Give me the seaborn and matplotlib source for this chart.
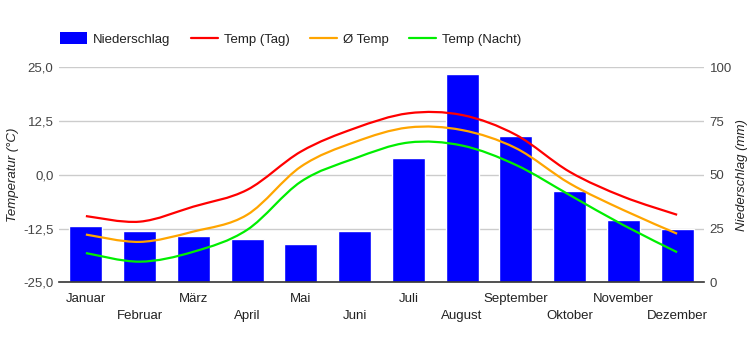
import matplotlib
matplotlib.use("Agg")
import matplotlib.pyplot as plt
import numpy as np
import pandas as pd
import seaborn as sns
from matplotlib.lines import Line2D
from matplotlib.patches import Patch, PathPatch
from matplotlib.path import Path

months = ["Januar", "Februar", "März", "April", "Mai", "Juni", "Juli",
          "August", "September", "Oktober", "November", "Dezember"]
niederschlag = [26, 24, 21.5, 20, 18, 24, 58, 97, 68, 42.5, 29, 25]
temp_tag = [-9.6, -10.9, -7.4, -3.5, 5.4, 10.8, 14.3, 13.9, 9.3, 0.7, -5.1, -9.3]
temp_mittel = [-13.9, -15.6, -13.2, -9.3, 1.9, 7.6, 11.0, 10.4, 6.2, -2.0, -8.2, -13.7]
temp_nacht = [-18.2, -20.2, -17.9, -12.8, -1.6, 3.8, 7.5, 6.8, 2.3, -4.7, -11.7, -18.0]

temp_ticks = [-25, -12.5, 0, 12.5, 25]
rain_ticks = [0, 25, 50, 75, 100]


def smooth_path(xs, ys):
    # bezier path through the points, like a "function" curve
    pts = np.column_stack([xs, ys]).astype(float)
    n = len(pts)
    verts = [pts[0]]
    codes = [Path.MOVETO]
    for i in range(n - 1):
        p0 = pts[max(i - 1, 0)]
        p1 = pts[i]
        p2 = pts[i + 1]
        p3 = pts[min(i + 2, n - 1)]
        c1 = p1 + (p2 - p0) / 6.0
        c2 = p2 - (p3 - p1) / 6.0
        verts += [c1, c2, p2]
        codes += [Path.CURVE4] * 3
    return Path(verts, codes)


sns.set_theme(style="white")
plt.rcParams["font.family"] = ["Liberation Sans", "DejaVu Sans"]
plt.rcParams["font.size"] = 9.5

df = pd.DataFrame({"monat": months, "mm": niederschlag})

fig = plt.figure(figsize=(7.5, 3.5), dpi=100)
ax = fig.add_axes([59 / 750, 1 - 282.3 / 350, 645 / 750, 215 / 350])
ax2 = ax.twinx()

sns.barplot(data=df, x="monat", y="mm", color="#0000ff", saturation=1,
            width=0.61, ax=ax2, zorder=2)
ax2.set_ylim(0, 100)
ax2.set_yticks(rain_ticks)
ax2.set_yticklabels([str(t) for t in rain_ticks])
ax2.set_ylabel("Niederschlag (mm)", style="italic", color="#222222",
               fontsize=9.5, labelpad=3)
ax2.set_xlabel("")

# temperature lines above the bars
ax.set_zorder(ax2.get_zorder() + 1)
ax.patch.set_visible(False)
xpos = np.arange(len(months))
for vals, col in [(temp_tag, "#ff0000"), (temp_mittel, "#ffa500"),
                  (temp_nacht, "#00ee00")]:
    ax.add_patch(PathPatch(smooth_path(xpos, vals), facecolor="none",
                           edgecolor=col, lw=1.6, zorder=3))
ax.set_xlim(-0.5, 11.5)
ax.set_ylim(-25, 25)
ax.set_yticks(temp_ticks)
ax.set_yticklabels([f"{t:.1f}".replace(".", ",") for t in temp_ticks])
ax.set_ylabel("Temperatur (°C)", style="italic", color="#222222",
              fontsize=9.5, labelpad=3)

# grid lines drawn on the back axis
for t in rain_ticks[1:]:
    ax2.axhline(t, color="#cccccc", lw=1, zorder=0)

# month labels in two rows: odd months on major ticks, even on minor
ax.set_xticks(xpos[::2])
ax.set_xticklabels(months[::2])
ax.set_xticks(xpos[1::2], minor=True)
ax.set_xticklabels(months[1::2], minor=True)
ax.set_xlabel("")

for a in (ax, ax2):
    for s in a.spines.values():
        s.set_visible(False)
    a.tick_params(which="both", length=0, colors="#444444", labelsize=9.5)
ax.tick_params(axis="y", pad=4)
ax2.tick_params(axis="y", pad=4)
ax.tick_params(axis="x", which="major", pad=7.5, colors="#222222")
ax.tick_params(axis="x", which="minor", pad=20, colors="#222222")
ax.spines["bottom"].set_visible(True)
ax.spines["bottom"].set_color("#333333")
ax.spines["bottom"].set_linewidth(1.2)

handles = [Patch(facecolor="#0000ff", edgecolor="none"),
           Line2D([], [], color="#ff0000", lw=1.6),
           Line2D([], [], color="#ffa500", lw=1.6),
           Line2D([], [], color="#00ee00", lw=1.6)]
labels = ["Niederschlag", "Temp (Tag)", "Ø Temp", "Temp (Nacht)"]
fig.legend(handles, labels, loc="center left", ncol=4, frameon=False,
           bbox_to_anchor=(60 / 750, 1 - 39 / 350), borderpad=0,
           borderaxespad=0, handlelength=2.05, handleheight=0.95,
           handletextpad=0.45, columnspacing=1.55, fontsize=9.5,
           labelcolor="#222222")

fig.savefig("out.png", dpi=100)
